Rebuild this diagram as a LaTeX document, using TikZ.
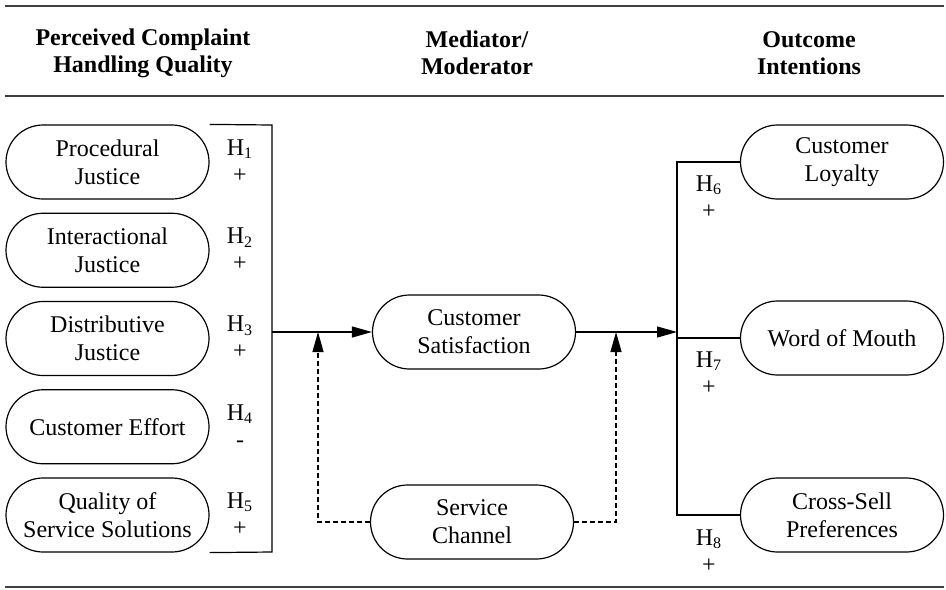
\documentclass[tikz,border=0pt]{standalone}
\usepackage{fontspec}
\setmainfont{Liberation Serif}
\usetikzlibrary{arrows.meta}
\tikzset{ node_style/.style = { rectangle % construct
        , draw
        , line width = 0.6pt
        , rounded corners = 18.5pt
        , minimum width = 101.5pt
        , minimum height = 37pt
        , inner sep = 0pt
        , align = center
        , font = \fontsize{12}{14}\selectfont
        }
        , hyp_style/.style = { rectangle % hypothesis
        , inner sep = 0pt
        , align = center
        , font = \fontsize{12}{13.5}\selectfont
        }
        , head_style/.style = { rectangle % column head
        , inner sep = 0pt
        , align = center
        , font = \fontsize{12}{13.5}\selectfont\bfseries
        }
        }

\begin{document}
\begin{tikzpicture}[x=0.5pt, y=-0.5pt, line width=0.6pt,
        edge_style/.style={draw=black, -{Triangle[length=10pt,width=5.5pt]}},
        dashed_edge_style/.style={draw=black, dash pattern=on 2.5pt off 1.5pt, -{Triangle[length=10pt,width=5.5pt]}},
        rule_style/.style={draw=black!75, line width=0.8pt}]
        \useasboundingbox (0,0) rectangle (946,589);

        \draw [rule_style] (5,6) -- (944,6);
        \draw [rule_style] (5,96) -- (944,96);
        \draw [rule_style] (5,587) -- (944,587);

        \node [head_style](h_pchq) at (143,53) {Perceived Complaint\\Handling Quality};
        \node [head_style](h_med) at (477,53) {Mediator/\\Moderator};
        \node [head_style](h_out) at (809,53) {Outcome\\Intentions};

        \node [node_style](pj) at (107.5,162) {Procedural\\Justice};
        \node [node_style](ij) at (107.5,250.25) {Interactional\\Justice};
        \node [node_style](dj) at (107.5,338.5) {Distributive\\Justice};
        \node [node_style](ce) at (107.5,426.75) {Customer Effort};
        \node [node_style](qs) at (107.5,515) {Quality of\\Service Solutions};

        \node [hyp_style](hy1) at (240,161) {H\textsubscript{1}\\+};
        \node [hyp_style](hy2) at (240,249.25) {H\textsubscript{2}\\+};
        \node [hyp_style](hy3) at (240,337.5) {H\textsubscript{3}\\+};
        \node [hyp_style](hy4) at (240,425.75) {H\textsubscript{4}\\-};
        \node [hyp_style](hy5) at (240,514) {H\textsubscript{5}\\+};

        \node [node_style](cs) at (474,332) {Customer\\Satisfaction};
        \node [node_style](sc) at (472,522) {Service\\Channel};

        \node [node_style](cl) at (842,162) {Customer\\Loyalty};
        \node [node_style](wom) at (842,338) {Word of Mouth};
        \node [node_style](csp) at (842,515) {Cross-Sell\\Preferences};

        \node [hyp_style](hy6) at (709,197) {H\textsubscript{6}\\+};
        \node [hyp_style](hy7) at (709,373) {H\textsubscript{7}\\+};
        \node [hyp_style](hy8) at (709,551) {H\textsubscript{8}\\+};

        \coordinate (br_top) at (272,125);
        \coordinate (br_mid) at (272,332);
        \coordinate (br_bot) at (272,552);
        \coordinate (mod_l) at (318,332);
        \coordinate (mod_r) at (616,332);
        \coordinate (jn) at (677,332);

        % bracket round the five antecedents
        \draw (pj.north east) -- (br_top) -- (br_bot) -- (qs.south east);
        \draw [edge_style] (br_mid) -- (cs.west);
        \draw [edge_style] (cs.east) -- (jn);
        \draw [dashed_edge_style] (sc.west) -| (mod_l);
        \draw [dashed_edge_style] (sc.east) -| (mod_r);

        % fork to the outcomes
        \draw (cl.west) -| (jn) |- (csp.west);
        \draw (wom.west) -- (wom.west -| jn);
\end{tikzpicture}
\end{document}
